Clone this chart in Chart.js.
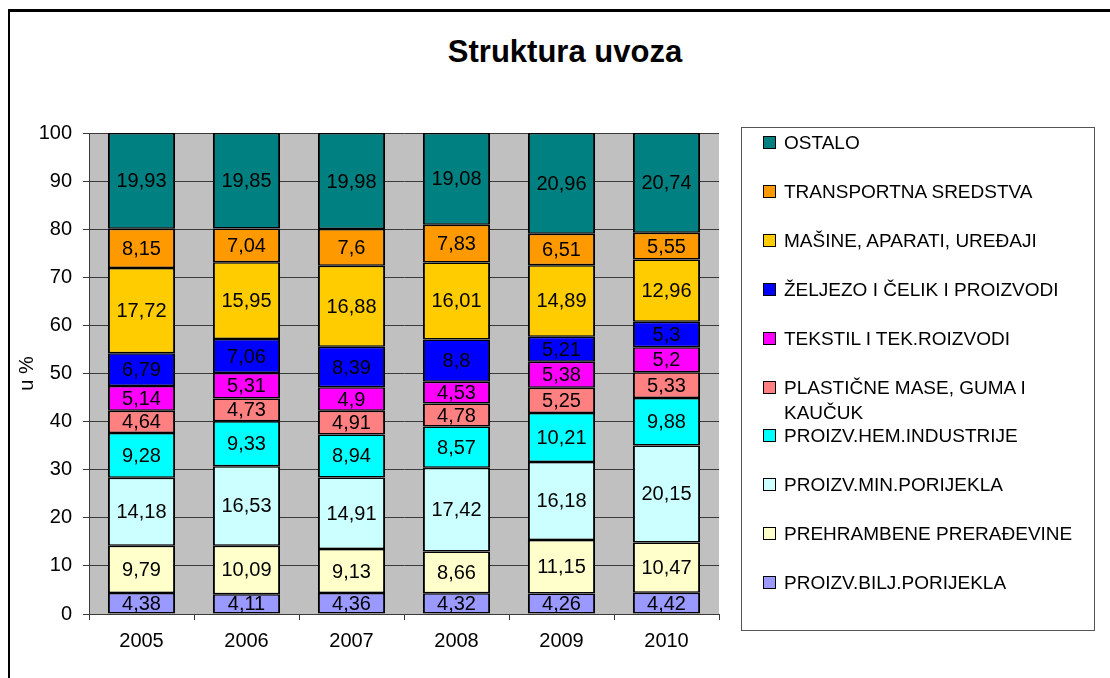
<!DOCTYPE html>
<html>
<head>
<meta charset="utf-8">
<script src="https://cdn.jsdelivr.net/npm/chart.js@4.4.1/dist/chart.umd.min.js"></script>
<style>
  html, body { margin: 0; padding: 0; background: #fff; overflow: hidden; }
  .wrap { position: relative; width: 1110px; height: 678px; overflow: hidden; font-family: 'Liberation Sans', Arial, sans-serif; }
  .frame { position: absolute; left: 8px; top: 9px; width: 1200px; height: 800px; border-left: 2.5px solid #000; border-top: 3px solid #000; }
  .title { position: absolute; left: 0; top: 36px; width: 1130px; text-align: center; font-weight: bold; font-size: 31px; line-height: 31px; color: #000; }
  canvas { position: absolute; left: 0; top: 0; }
  .legend { position: absolute; left: 741px; top: 127px; width: 352px; height: 502px; border: 1px solid #555; box-sizing: content-box; }
  .legend .item { position: absolute; left: 21px; display: flex; align-items: flex-start; }
  .legend .sw { width: 11px; height: 11px; border: 1.5px solid #000; margin-top: 6px; margin-right: 8px; flex: none; }
  .legend .txt { font-size: 19px; line-height: 25px; white-space: pre-line; color: #000; }
</style>
</head>
<body>
<div class="wrap">
  <div class="frame"></div>
  <div class="title">Struktura uvoza</div>
  <canvas id="c" width="1110" height="678"></canvas>
  <div class="legend" id="legend"></div>
</div>
<script>
// godine
const years = ['2005', '2006', '2007', '2008', '2009', '2010'];

// serije, od dna stupca prema vrhu
const biljPorijekla = [4.38, 4.11, 4.36, 4.32, 4.26, 4.42];
const prehrambene = [9.79, 10.09, 9.13, 8.66, 11.15, 10.47];
const minPorijekla = [14.18, 16.53, 14.91, 17.42, 16.18, 20.15];
const hemIndustrija = [9.28, 9.33, 8.94, 8.57, 10.21, 9.88];
const plasticneMase = [4.64, 4.73, 4.91, 4.78, 5.25, 5.33];
const tekstil = [5.14, 5.31, 4.9, 4.53, 5.38, 5.2];
const zeljezo = [6.79, 7.06, 8.39, 8.8, 5.21, 5.3];
const masine = [17.72, 15.95, 16.88, 16.01, 14.89, 12.96];
const transport = [8.15, 7.04, 7.6, 7.83, 6.51, 5.55];
const ostalo = [19.93, 19.85, 19.98, 19.08, 20.96, 20.74];

const seriesNames = [
  'PROIZV.BILJ.PORIJEKLA',
  'PREHRAMBENE PRERAĐEVINE',
  'PROIZV.MIN.PORIJEKLA',
  'PROIZV.HEM.INDUSTRIJE',
  'PLASTIČNE MASE, GUMA I\nKAUČUK',
  'TEKSTIL I TEK.ROIZVODI',
  'ŽELJEZO I ČELIK I PROIZVODI',
  'MAŠINE, APARATI, UREĐAJI',
  'TRANSPORTNA SREDSTVA',
  'OSTALO'
];
const seriesValues = [biljPorijekla, prehrambene, minPorijekla, hemIndustrija, plasticneMase, tekstil, zeljezo, masine, transport, ostalo];
const seriesColors = ['#9999FF', '#FFFFCC', '#CCFFFF', '#00FFFF', '#FF8080', '#FF00FF', '#0000FF', '#FFCC00', '#FF9900', '#008080'];

const yTicks = [0, 10, 20, 30, 40, 50, 60, 70, 80, 90, 100];

const FONT = "'Liberation Sans', Arial, sans-serif";
const fmtVal = (v) => String(v).replace('.', ',');

const plotBg = {
  id: 'plotBg',
  beforeDraw(chart) {
    const { ctx, chartArea: a } = chart;
    ctx.save();
    ctx.fillStyle = '#C0C0C0';
    ctx.fillRect(a.left, a.top, a.right - a.left, a.bottom - a.top);
    ctx.restore();
  }
};

const barLabels = {
  id: 'barLabels',
  afterDatasetsDraw(chart) {
    const ctx = chart.ctx;
    ctx.save();
    ctx.font = `20px ${FONT}`;
    ctx.fillStyle = '#000';
    ctx.textAlign = 'center';
    ctx.textBaseline = 'middle';
    chart.data.datasets.forEach((ds, i) => {
      chart.getDatasetMeta(i).data.forEach((bar, j) => {
        ctx.fillText(fmtVal(ds.data[j]), bar.x, (bar.y + bar.base) / 2 + 1);
      });
    });
    ctx.restore();
  }
};

new Chart(document.getElementById('c'), {
  type: 'bar',
  data: {
    labels: years,
    datasets: seriesValues.map((vals, i) => ({
      label: seriesNames[i],
      data: vals,
      backgroundColor: seriesColors[i],
      borderColor: '#000',
      borderWidth: { top: 1.5, bottom: 1.5, left: 2, right: 2 },
      borderSkipped: false,
      categoryPercentage: 1,
      barPercentage: 0.64
    }))
  },
  options: {
    responsive: false,
    animation: false,
    layout: { padding: { left: 9, right: 391, top: 133, bottom: 14 } },
    plugins: { legend: { display: false }, tooltip: { enabled: false }, title: { display: false } },
    scales: {
      x: {
        stacked: true,
        grid: { offset: true, drawOnChartArea: false, drawTicks: true, tickLength: 6, color: '#3a3a3a' },
        border: { color: '#3a3a3a', width: 1 },
        ticks: { color: '#000', font: { family: FONT, size: 20 }, padding: 9 },
        afterFit: (s) => { s.height = 50; }
      },
      y: {
        stacked: true,
        min: 0,
        max: 100,
        afterBuildTicks: (s) => { s.ticks = yTicks.map(v => ({ value: v })); },
        grid: { color: '#3a3a3a', lineWidth: 1, tickLength: 6 },
        border: { color: '#3a3a3a', width: 1 },
        ticks: { color: '#000', font: { family: FONT, size: 20 }, padding: 11 },
        title: { display: true, text: 'u %', color: '#000', font: { family: FONT, size: 20 }, padding: { top: 6, bottom: 0 } },
        afterFit: (s) => { s.width = 80; }
      }
    }
  },
  plugins: [plotBg, barLabels]
});

// legenda: vrh stupca prvi
const legend = document.getElementById('legend');
const rowStep = 48.9;
seriesNames.slice().reverse().forEach((name, k) => {
  const idx = seriesNames.length - 1 - k;
  const item = document.createElement('div');
  item.className = 'item';
  item.style.top = (2 + k * rowStep) + 'px';
  item.innerHTML = `<span class="sw" style="background:${seriesColors[idx]}"></span><span class="txt"></span>`;
  item.querySelector('.txt').textContent = name;
  legend.appendChild(item);
});
</script>
</body>
</html>
